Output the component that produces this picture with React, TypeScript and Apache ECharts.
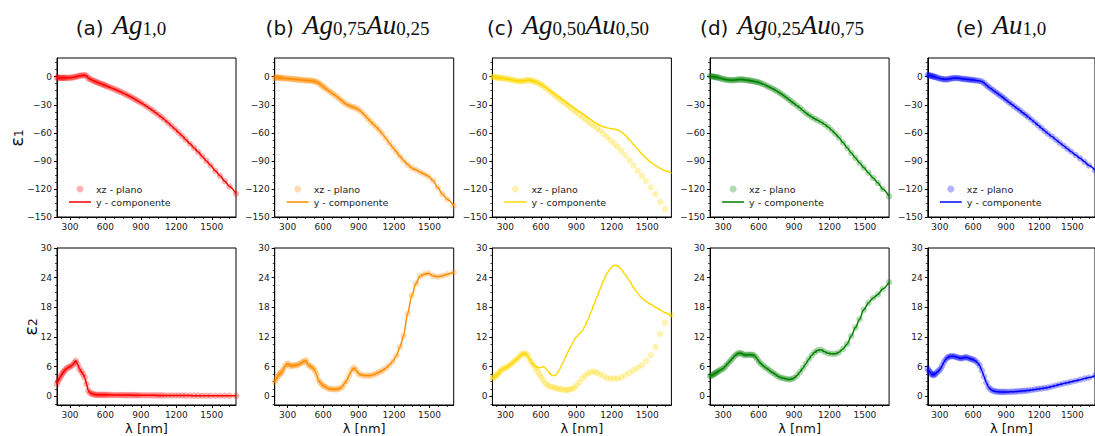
import React, { useEffect, useRef } from 'react';
import * as echarts from 'echarts';

const LAMBDA = [190,200,210,220,230,240,250,260,275,290,
  305,320,335,350,365,380,395,410,425,440,
  455,470,485,500,515,530,545,560,575,590,
  605,620,640,660,680,700,720,740,760,780,
  800,820,840,860,880,900,925,950,975,1000,
  1025,1050,1075,1100,1130,1160,1190,1220,1250,1280,
  1315,1350,1385,1420,1455,1490,1530,1570,1610,1650,1705];

const A_E1 = [-1,-1,-1.1,-1.2,-1.3,-1.3,-1.2,-1.2,-1.2,-1.1,
  -1,-0.8,-0.5,0,0.5,1,1.3,1.5,1.5,1,
  -1.5,-2.5,-3.5,-4.5,-5.2,-6,-6.7,-7.5,-8.2,-9,
  -9.7,-10.5,-11.5,-12.5,-13.5,-14.6,-15.7,-16.9,-18.1,-19.4,
  -20.7,-22,-23.4,-24.8,-26.3,-27.8,-29.8,-31.9,-34,-36.2,
  -38.5,-40.9,-43.4,-46,-49.3,-52.7,-56.2,-59.8,-63.5,-67.3,
  -71.7,-76.1,-80.6,-85.2,-90,-94.8,-100.5,-106,-111.7,-117.3,-125];
const A_E2 = [2.5,3.1,3.6,4,4.4,4.8,5.1,5.4,5.7,5.9,
  6.1,6.3,6.8,7.2,6.5,5.6,5,4.5,3.8,2.5,
  1.2,0.7,0.5,0.4,0.35,0.3,0.3,0.3,0.3,0.3,
  0.3,0.3,0.3,0.28,0.28,0.27,0.27,0.26,0.26,0.25,
  0.25,0.25,0.24,0.24,0.23,0.23,0.22,0.22,0.21,0.2,
  0.2,0.19,0.19,0.18,0.18,0.17,0.17,0.16,0.16,0.15,
  0.15,0.14,0.14,0.13,0.13,0.12,0.12,0.11,0.11,0.1,0.1];

const B_E1 = [-0.7,-0.8,-0.9,-1,-1.1,-1.2,-1.3,-1.5,-1.7,-1.9,
  -2,-2.2,-2.4,-2.6,-2.8,-3,-3.1,-3.3,-3.5,-3.7,
  -3.9,-4.1,-4.2,-4.3,-4.6,-5,-5.7,-6.5,-8,-9.5,
  -11,-12.5,-14.4,-16.2,-18,-19.7,-21.8,-23.9,-26,-28,
  -29.7,-31,-32,-32.8,-33.8,-35,-37.8,-41,-44.3,-47.7,
  -50.8,-53.8,-57.3,-61,-65.8,-70.8,-75.7,-80.3,-85,-89.5,
  -94,-97.5,-99.5,-102,-104,-106.5,-111,-118.5,-125.5,-131,-138];
const B_E2 = [2.9,3.4,3.9,4.2,4.5,4.7,4.9,5.4,6,6.5,
  6.6,6.2,6.1,6.3,6.3,6.3,6.5,6.7,6.9,7.1,
  7.3,6.5,6.2,6,5.7,5.2,4.4,3.3,2.8,2.4,
  2.1,1.9,1.6,1.5,1.45,1.4,1.45,1.6,1.9,2.6,
  3.2,4.2,5.2,5.8,5.3,4.6,4.3,4.2,4.2,4.2,
  4.4,4.6,4.9,5.2,5.7,6.3,7.1,8.2,10,12.2,
  16.7,20.4,22.8,24.3,24.7,24.9,24.4,24.2,24.4,24.7,25.1];

const C_E1 = [0,-0.3,-0.5,-0.7,-0.9,-1.1,-1.3,-1.5,-1.7,-1.8,
  -2,-2.4,-2.8,-3.2,-3.6,-4,-4.3,-4.5,-4.7,-4.7,
  -4.5,-4,-3.7,-3.6,-3.9,-4.4,-5,-5.6,-6.5,-7.5,
  -8.5,-10,-12,-14,-16,-18,-20,-22,-24,-26,
  -28,-30,-32,-34,-36,-38,-40.5,-43,-45.5,-48,
  -50.3,-52.5,-55,-57.5,-61,-64.5,-68,-71.5,-75,-79,
  -84,-89.5,-95,-100.5,-106,-111.5,-118.5,-125.5,-134,-141.5,-151];
const C_E1_LINE = [0,-0.3,-0.5,-0.7,-0.9,-1.1,-1.3,-1.5,-1.7,-1.8,
  -2,-2.4,-2.8,-3.2,-3.6,-4,-4.3,-4.5,-4.7,-4.7,
  -4.5,-4,-3.7,-3.6,-3.9,-4.4,-5,-5.6,-6.5,-7.5,
  -8.3,-9.7,-11.5,-13.3,-15.2,-17,-18.8,-20.6,-22.4,-24.2,
  -26,-27.8,-29.6,-31.4,-33.2,-35,-37.2,-39.4,-41.6,-43.8,
  -46,-48.3,-50.3,-52,-53.6,-54.6,-55.3,-56,-57,-59,
  -62.5,-67.5,-72.5,-77.5,-82.5,-87,-91.5,-95,-98,-100.5,-103];
const C_E2 = [3.6,3.8,4,4.2,4.4,4.6,4.9,5.2,5.5,5.7,
  5.8,6,6.3,6.6,6.9,7.2,7.5,7.8,8.2,8.5,
  8.7,8.6,8.4,7.7,7.1,6.6,6.1,5.6,5,4.4,
  3.8,3.2,2.6,2.2,2,1.9,1.7,1.6,1.5,1.4,
  1.3,1.3,1.4,1.5,1.7,2.2,2.8,3.6,4.2,4.7,
  4.9,5,4.8,4.5,4.1,3.7,3.6,3.6,3.6,3.8,
  4.3,4.8,5.3,5.8,6.3,7.2,8.3,10,12.6,14.9,16.5];
const C_E2_LINE = [3.6,3.8,4,4.2,4.4,4.6,4.9,5.2,5.5,5.7,
  5.8,6,6.3,6.6,6.9,7.2,7.5,7.8,8.2,8.5,
  8.7,8.6,8.4,7.7,7.1,6.6,6.2,6,5.8,5.8,
  5.9,6,5.7,5.1,4.5,4.2,4.2,4.7,5.5,6.5,
  7.5,8.5,9.5,10.4,11.3,12,12.6,13.2,14.3,15.6,
  17.1,18.6,20.1,21.6,23.4,24.9,25.9,26.5,26.4,25.7,
  24.6,23.4,22,20.8,19.9,19.2,18.6,18,17.5,16.9,16.2];

const D_E1 = [0.7,0.5,0.3,0,-0.3,-0.5,-0.7,-1,-1.5,-2.1,
  -2.6,-3,-3.3,-3.6,-3.7,-3.7,-3.6,-3.4,-3.1,-2.9,
  -2.9,-3.1,-3.4,-3.6,-3.9,-4.2,-4.5,-4.8,-5.3,-5.8,
  -6.2,-7,-8,-9.2,-10.5,-11.5,-12.9,-14.3,-15.7,-17.3,
  -19,-20.9,-22.8,-24.7,-26.7,-28.7,-31,-33.3,-36,-38.7,
  -41,-43,-44.9,-46.6,-48.6,-51,-53.8,-57.3,-61,-65,
  -70.4,-76,-81.6,-86.8,-92,-97.2,-102.6,-108.2,-113.6,-120,-128];
const D_E2 = [4.1,4.2,4.3,4.5,4.6,4.8,4.9,5.1,5.3,5.5,
  5.7,6.1,6.5,6.9,7.3,7.7,8.1,8.4,8.7,8.7,
  8.7,8.5,8.3,8.4,8.4,8.4,8.4,8.3,8,7.5,
  7,6.6,6.2,5.8,5.5,5.1,4.8,4.5,4.1,3.9,
  3.7,3.6,3.5,3.4,3.5,3.7,4.2,4.9,5.7,6.6,
  7.5,8.3,8.9,9.3,9.4,9,8.7,8.6,8.6,8.9,
  9.6,10.6,12.2,13.9,15.6,17.5,18.9,19.9,20.6,21.7,23.1];

const E_E1 = [1.8,1.5,1.2,0.9,0.6,0.3,0,-0.4,-1,-1.6,
  -2,-2.4,-2.7,-2.9,-2.8,-2.5,-2,-1.7,-1.5,-1.4,
  -1.4,-1.6,-1.9,-2.2,-2.4,-2.6,-2.8,-3,-3.2,-3.4,
  -3.6,-3.8,-4.2,-4.6,-5.2,-6.8,-9,-10.9,-12.6,-14.4,
  -16.1,-17.8,-19.5,-21.2,-23,-25,-27.3,-29.5,-31.8,-34,
  -36.2,-38.5,-40.8,-43,-46,-49,-52,-55,-58,-61,
  -64,-67.3,-70.5,-73.8,-77,-80.2,-83.8,-87.3,-91,-95,-100];
const E_E2 = [5.6,5.2,4.9,4.6,4.4,4.3,4.4,4.6,4.9,5.2,
  5.6,6.2,6.9,7.4,7.8,8,8.1,8.1,8.1,8,
  7.9,7.8,7.7,7.7,7.8,7.9,7.9,7.7,7.6,7.5,
  7.4,7.2,6.8,6.2,5.2,4,2.8,1.9,1.4,1.15,
  1,0.95,0.9,0.9,0.9,0.9,0.9,0.95,0.95,1,
  1.05,1.1,1.15,1.2,1.3,1.4,1.5,1.6,1.7,1.8,
  2,2.2,2.4,2.6,2.75,2.95,3.15,3.35,3.6,3.8,4.2];

const X_TICKS = [300, 600, 900, 1200, 1500];
const X_MINOR = [225, 375, 450, 525, 675, 750, 825, 975, 1050, 1125, 1275, 1350, 1425, 1575, 1650];
const Y1_TICKS = [-150, -120, -90, -60, -30, 0];
const Y1_MINOR = [-142.5, -135, -127.5, -112.5, -105, -97.5, -82.5, -75, -67.5, -52.5, -45, -37.5, -22.5, -15, -7.5, 7.5, 15];
const Y2_TICKS = [0, 6, 12, 18, 24, 30];
const Y2_MINOR = [-1.5, 1.5, 3, 4.5, 7.5, 9, 10.5, 13.5, 15, 16.5, 19.5, 21, 22.5, 25.5, 27, 28.5];

const TITLE_LABELS = ['(a)', '(b)', '(c)', '(d)', '(e)'];
const TITLE_PARTS = [
  [['Ag', '1,0']],
  [['Ag', '0,75'], ['Au', '0,25']],
  [['Ag', '0,50'], ['Au', '0,50']],
  [['Ag', '0,25'], ['Au', '0,75']],
  [['Au', '1,0']],
];
const TITLE_CENTERS = [121, 347.5, 568, 782, 1001];

const COLORS = ['#ff0000', '#ff8c00', '#ffd700', '#008000', '#0000ff'];
const LEGEND_POINTS = 'xz - plano';
const LEGEND_LINE = 'y - componente';

const PANELS = [
  { e1: A_E1, e1L: A_E1, e2: A_E2, e2L: A_E2 },
  { e1: B_E1, e1L: B_E1, e2: B_E2, e2L: B_E2 },
  { e1: C_E1, e1L: C_E1_LINE, e2: C_E2, e2L: C_E2_LINE },
  { e1: D_E1, e1L: D_E1, e2: D_E2, e2L: D_E2 },
  { e1: E_E1, e1L: E_E1, e2: E_E2, e2L: E_E2 },
];

const FONT = 'DejaVu Sans';
const COL_LEFT0 = 57;
const COL_STEP = 217.7;
const COL_W = 179;
const ROWS = [{ top: 58, height: 159 }, { top: 248, height: 158 }];

const minus = (v: number) => String(v).replace('-', '\u2212');

export default function App() {
  const ref = useRef<HTMLDivElement>(null);
  useEffect(() => {
    if (!ref.current) return;
    const chart = echarts.init(ref.current, null, { renderer: 'svg' });

    const grids: any[] = [];
    const xAxes: any[] = [];
    const yAxes: any[] = [];
    const xMinor: any[] = [];
    const yMinor: any[] = [];
    const series: any[] = [];
    const legends: any[] = [];
    const graphics: any[] = [];

    for (let r = 0; r < 2; r++) {
      for (let i = 0; i < 5; i++) {
        const idx = r * 5 + i;
        const left = COL_LEFT0 + i * COL_STEP;
        grids.push({
          left, top: ROWS[r].top, width: COL_W, height: ROWS[r].height,
          show: true, borderColor: '#000', borderWidth: 1, containLabel: false,
        });
        xAxes.push({
          type: 'value', gridIndex: idx, min: 190, max: 1705,
          axisLine: { show: true, onZero: false, lineStyle: { color: '#000', width: 1 } },
          axisTick: { show: true, customValues: X_TICKS, length: 3, lineStyle: { color: '#000' } },
          axisLabel: { customValues: X_TICKS, margin: 5, fontFamily: FONT, fontSize: 9, color: '#222', formatter: (v: number) => String(v) },
          splitLine: { show: false },
          name: r === 1 ? 'λ [nm]' : '',
          nameLocation: 'middle', nameGap: 17,
          nameTextStyle: { fontFamily: FONT, fontSize: 13, color: '#111' },
        });
        xMinor.push({
          type: 'value', gridIndex: idx, min: 190, max: 1705, position: 'bottom',
          axisLine: { show: false, onZero: false },
          axisTick: { show: true, customValues: X_MINOR, length: 2, lineStyle: { color: '#000', width: 0.7 } },
          axisLabel: { show: false, customValues: X_MINOR },
          splitLine: { show: false },
        });
        const ticks = r === 0 ? Y1_TICKS : Y2_TICKS;
        const minors = r === 0 ? Y1_MINOR : Y2_MINOR;
        const ymin = r === 0 ? -150 : -1.75;
        const ymax = r === 0 ? 20 : 30;
        yAxes.push({
          type: 'value', gridIndex: idx, min: ymin, max: ymax,
          axisLine: { show: true, onZero: false, lineStyle: { color: '#000', width: 1 } },
          axisTick: { show: true, customValues: ticks, length: 3, lineStyle: { color: '#000' } },
          axisLabel: { customValues: ticks, margin: 5, fontFamily: FONT, fontSize: 9, color: '#222', formatter: (v: number) => minus(v) },
          splitLine: { show: false },
        });
        yMinor.push({
          type: 'value', gridIndex: idx, min: ymin, max: ymax, position: 'left',
          axisLine: { show: false, onZero: false },
          axisTick: { show: true, customValues: minors, length: 2, lineStyle: { color: '#000', width: 0.7 } },
          axisLabel: { show: false, customValues: minors },
          splitLine: { show: false },
        });
        const p = PANELS[i];
        const pts = r === 0 ? p.e1 : p.e2;
        const ln = r === 0 ? p.e1L : p.e2L;
        series.push({
          type: 'scatter', name: `${LEGEND_POINTS}|${i}`, xAxisIndex: idx, yAxisIndex: idx,
          data: LAMBDA.map((x, k) => [x, pts[k]]),
          symbol: 'circle', symbolSize: 6.5, clip: true, silent: true,
          itemStyle: { color: COLORS[i], opacity: 0.3 },
        });
        series.push({
          type: 'line', name: `${LEGEND_LINE}|${i}`, xAxisIndex: idx, yAxisIndex: idx,
          data: LAMBDA.map((x, k) => [x, ln[k]]),
          symbol: 'none', showSymbol: false, clip: true, silent: true,
          smooth: 0.3, smoothMonotone: 'x',
          lineStyle: { color: COLORS[i], width: 1.5 },
          itemStyle: { color: COLORS[i] },
        });
      }
    }

    for (let i = 0; i < 5; i++) {
      const left = COL_LEFT0 + i * COL_STEP;
      legends.push({
        left: left + 7, top: 179, orient: 'vertical',
        itemWidth: 22, itemHeight: 7, itemGap: 3,
        selectedMode: false,
        data: [
          { name: `${LEGEND_POINTS}|${i}`, icon: 'circle' },
          { name: `${LEGEND_LINE}|${i}`, icon: 'path://M0,0L44,0L44,3L0,3Z' },
        ],
        formatter: (n: string) => n.split('|')[0],
        textStyle: { fontFamily: FONT, fontSize: 9.5, color: '#222' },
      });
      let text = `{p|${TITLE_LABELS[i]}}`;
      TITLE_PARTS[i].forEach((part, k) => {
        text += `{${k === 0 ? 'm0' : 'm'}|${part[0]}}{s|${part[1]}}`;
      });
      graphics.push({
        type: 'text', x: TITLE_CENTERS[i], y: 23, silent: true,
        style: {
          text, align: 'center', verticalAlign: 'middle',
          rich: {
            p: { fontFamily: FONT, fontSize: 20, lineHeight: 30, verticalAlign: 'bottom', fill: '#111' },
            m0: { fontFamily: 'Liberation Serif', fontStyle: 'italic', fontSize: 27, lineHeight: 30, verticalAlign: 'bottom', fill: '#111', padding: [0, 0, 0, 9] },
            m: { fontFamily: 'Liberation Serif', fontStyle: 'italic', fontSize: 27, lineHeight: 30, verticalAlign: 'bottom', fill: '#111' },
            s: { fontFamily: 'Liberation Serif', fontSize: 19, lineHeight: 18, verticalAlign: 'bottom', fill: '#111' },
          },
        },
      });
    }

    const yLabel = (x: number, y: number, sub: string) => ({
      type: 'text', x, y, rotation: Math.PI / 2, silent: true,
      style: {
        text: `{e|ε}{s|${sub}}`, align: 'center', verticalAlign: 'middle',
        rich: {
          e: { fontFamily: 'DejaVu Sans', fontSize: 18, lineHeight: 22, verticalAlign: 'bottom', fill: '#111' },
          s: { fontFamily: 'DejaVu Sans', fontSize: 12, lineHeight: 13, verticalAlign: 'bottom', fill: '#111' },
        },
      },
    });
    graphics.push(yLabel(14, 138, '1'));
    graphics.push(yLabel(28, 327, '2'));

    chart.setOption({
      animation: false,
      backgroundColor: '#fff',
      grid: grids,
      xAxis: [...xAxes, ...xMinor],
      yAxis: [...yAxes, ...yMinor],
      series,
      legend: legends,
      graphic: graphics,
    });
    return () => chart.dispose();
  }, []);
  return <div ref={ref} style={{ position: 'fixed', left: 0, top: 0, width: 1095, height: 436 }} />;
}
